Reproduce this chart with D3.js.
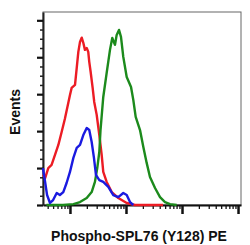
<!DOCTYPE html>
<html>
<head>
<meta charset="utf-8">
<script src="https://cdn.jsdelivr.net/npm/d3@7"></script>
<style>
  body { margin: 0; background: #fff; }
  svg { display: block; }
</style>
</head>
<body>
<div class="main"></div>
<script>
// Histogram traces: intensity (log axis) and event count
const redX   = [3.3, 3.6, 4.1, 4.7, 5.4, 6.2, 7.1, 8.1, 9.0, 10, 10.7, 12.3, 13.2, 14.1, 15.1, 16.2, 17.3, 18.5, 19.9, 21.2, 22.1, 23.4, 25.4, 27.1, 30.0, 33.4, 36.8, 39.3, 45.2, 55.6, 72.9, 103, 145, 300, 458]
const redY   = [16.3, 14.6, 20.0, 21.7, 27.1, 32.5, 39.5, 46.6, 53.1, 59.6, 63.4, 65.0, 74.2, 82.9, 88.3, 90.6, 87.8, 84.0, 85.0, 82.9, 77.5, 72.0, 63.4, 55.8, 48.8, 37.9, 27.1, 17.9, 12.5, 7.0, 3.8, 1.1, 0, 0, 0]

const blueX  = [3.3, 3.6, 3.9, 4.4, 5.0, 5.8, 6.6, 7.6, 8.7, 10, 11.5, 13.2, 15.1, 17.3, 19.9, 22.1, 24.4, 26.8, 29.1, 33.4, 39.3, 48.3, 59.3, 72.9, 89.5, 103, 118, 135]
const blueY  = [20.0, 12.5, 5.4, 1.1, 2.7, 6.5, 5.4, 7.0, 11.9, 17.9, 25.5, 30.9, 32.5, 37.9, 41.7, 40.6, 34.1, 25.5, 16.3, 13.5, 12.5, 9.8, 5.4, 4.3, 6.5, 5.4, 1.6, 0]

const greenX = [3.8, 7.5, 11.5, 15.1, 19.9, 24.4, 27.9, 30.7, 33.4, 35.1, 39.3, 45.2, 51.8, 56.9, 63.6, 68.2, 75.0, 81.4, 89.5, 103, 123, 135, 149, 178, 204, 234, 268, 330, 405, 497, 611, 804]
const greenY = [0, 0, 0.5, 1.6, 3.8, 7.0, 12.5, 20.0, 28.7, 40.6, 58.5, 71.5, 84.0, 90.5, 86.7, 92.1, 94.8, 91.0, 80.2, 69.3, 63.9, 56.9, 47.7, 40.6, 31.4, 22.8, 15.2, 9.2, 4.3, 1.6, 0.5, 0]

const xMajor = [10, 100, 1000, 10000]
const yMajor = [0, 20, 40, 60, 80, 100]

const xTitle = "Phospho-SPL76 (Y128) PE"
const yTitle = "Events"

const width = 250
const height = 245
const margin = ({top: 12, right: 9, bottom: 40, left: 43})

const x = d3.scaleLog()
  .domain([3.3, 11300])
  .range([margin.left, width - margin.right])

const y = d3.scaleLinear()
  .domain([0, 104.5])
  .range([height - margin.bottom, margin.top])

const svg = d3.select('.main')
  .append("svg")
    .attr("width", width)
    .attr("height", height)

// frame (top / right are light)
svg.append("rect")
  .attr("x", margin.left)
  .attr("y", margin.top)
  .attr("width", width - margin.right - margin.left)
  .attr("height", height - margin.bottom - margin.top)
  .attr("fill", "none")
  .attr("stroke", "#666")
  .attr("stroke-width", 1)

// minor ticks on log axis: 2..9 of every decade in range
const xMinor = []
for (let p = 0; p <= 4; p++) {
  for (let m = 2; m <= 9; m++) {
    const v = m * Math.pow(10, p)
    if (v >= x.domain()[0] && v <= x.domain()[1]) xMinor.push(v)
  }
}
const yMinor = d3.range(0, 105, 5).filter(v => v % 20 !== 0)

// bottom axis
svg.append("g")
    .attr("transform", `translate(0, ${height - margin.bottom})`)
    .call(d3.axisBottom(x).tickValues(xMinor).tickSize(4).tickFormat(""))
    .call(g => g.select(".domain").remove())
    .call(g => g.selectAll("line").attr("stroke", "#111").attr("stroke-width", 1.3))

svg.append("g")
    .attr("transform", `translate(0, ${height - margin.bottom})`)
    .call(d3.axisBottom(x).tickValues(xMajor).tickSize(9).tickFormat("").tickSizeOuter(0))
    .call(g => g.select(".domain").attr("stroke", "#111").attr("stroke-width", 2))
    .call(g => g.selectAll("line").attr("stroke", "#111").attr("stroke-width", 2.5))

// left axis
svg.append("g")
    .attr("transform", `translate(${margin.left}, 0)`)
    .call(d3.axisLeft(y).tickValues(yMinor).tickSize(3).tickFormat(""))
    .call(g => g.select(".domain").remove())
    .call(g => g.selectAll("line").attr("stroke", "#222").attr("stroke-width", 1.5))

svg.append("g")
    .attr("transform", `translate(${margin.left}, 0)`)
    .call(d3.axisLeft(y).tickValues(yMajor).tickSize(6).tickFormat("").tickSizeOuter(0))
    .call(g => g.select(".domain").attr("stroke", "#222").attr("stroke-width", 2))
    .call(g => g.selectAll("line").attr("stroke", "#111").attr("stroke-width", 2.2))

// traces
const line = d3.line()
  .x(d => x(d[0]))
  .y(d => y(d[1]))

const traces = [
  {xs: redX,   ys: redY,   color: "#ec1c24"},
  {xs: greenX, ys: greenY, color: "#1c8a1c"},
  {xs: blueX,  ys: blueY,  color: "#1a1ae0"}
]

svg.append("g")
  .selectAll("path")
  .data(traces)
  .join("path")
    .attr("d", d => line(d.xs.map((v, i) => [v, d.ys[i]])))
    .attr("fill", "none")
    .attr("stroke", d => d.color)
    .attr("stroke-width", 2.4)
    .attr("stroke-linejoin", "round")

// titles
svg.append("text")
  .attr("x", 139)
  .attr("y", 241)
  .attr("text-anchor", "middle")
  .attr("font-family", "Liberation Sans, Arial, sans-serif")
  .attr("font-weight", "bold")
  .attr("font-size", "14px")
  .attr("fill", "#111")
  .text(xTitle)

svg.append("text")
  .attr("transform", "translate(20, 112) rotate(-90)")
  .attr("text-anchor", "middle")
  .attr("font-family", "Liberation Sans, Arial, sans-serif")
  .attr("font-weight", "bold")
  .attr("font-size", "14px")
  .attr("fill", "#111")
  .text(yTitle)
</script>
</body>
</html>
